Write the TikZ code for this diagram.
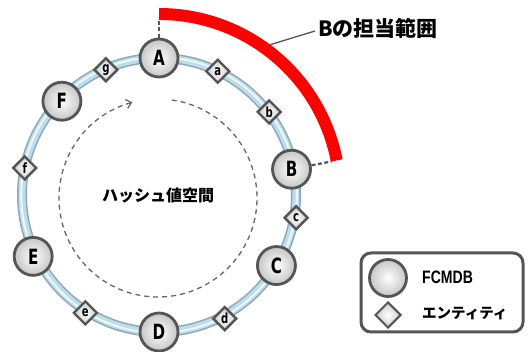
\documentclass[tikz,border=0pt]{standalone}
\usepackage{fontspec}
\setmainfont{Liberation Sans}
\newfontfamily\jp{Noto Sans CJK JP}
\newfontfamily\heavy{DejaVu Sans}
\usetikzlibrary{shapes.geometric,arrows.meta}
\definecolor{edgegray}{HTML}{555555}
\definecolor{ringout}{HTML}{8FA6B6}
\definecolor{ringmid}{HTML}{BCDDEC}
\definecolor{ringhi}{HTML}{EEF8FC}
\tikzset{
  ringnode/.style={circle, minimum size=38pt, inner sep=0pt, line width=2.8pt, draw=edgegray,
    shading=radial, inner color=white, outer color=gray!45,
    font=\heavy\bfseries\fontsize{21}{21}\selectfont},
  entnode/.style={diamond, minimum size=24pt, inner sep=0pt, line width=2.4pt, draw=edgegray,
    shading=radial, inner color=white, outer color=gray!40,
    font=\heavy\bfseries\fontsize{14}{14}\selectfont},
  conn/.style={edgegray, line width=2.2pt, dash pattern=on 4pt off 2.5pt},
  innerdash/.style={edgegray!90, line width=1.3pt, dash pattern=on 5pt off 4pt},
}
\newcommand{\nar}[1]{\scalebox{0.72}[1]{#1}}
\begin{document}
\begin{tikzpicture}[x=1pt,y=1pt]
\useasboundingbox (0,0) rectangle (529,352);
\coordinate (O) at (159,157);
\coordinate (C2) at (158,154);
% inner dashed hash space circle
\draw[innerdash, -{Straight Barb[length=5pt,width=9pt,line width=1.3pt]}]
  ([shift={(82:99)}]C2) arc[start angle=82, end angle=-255, radius=99];
\node[font=\jp\bfseries\fontsize{16}{16}\selectfont] (hs) at (158,157) {ハッシュ値空間};
% ring
\draw[ringout, line width=10pt] (O) circle[radius=137];
\draw[ringmid, line width=7pt] (O) circle[radius=137];
\draw[ringhi, line width=2pt] (O) circle[radius=137.8];
% red range of B
\draw[red, line width=12pt] ([shift={(90:181)}]O) arc[start angle=90, end angle=11, radius=181];
% entities
\node[entnode] (a) at ([shift={(64.6:137)}]O) {\nar{a}};
\node[entnode] (b) at ([shift={(37:138)}]O) {\nar{b}};
\node[entnode] (c) at ([shift={(-9.4:139)}]O) {\nar{c}};
\node[entnode] (d) at ([shift={(-62:140)}]O) {\nar{d}};
\node[entnode] (e) at ([shift={(238:139)}]O) {\nar{e}};
\node[entnode] (f) at ([shift={(168.6:137)}]O) {\nar{f}};
\node[entnode] (g) at ([shift={(113:136)}]O) {\nar{g}};
% FCMDB nodes
\node[ringnode] (A) at ([shift={(90:137)}]O) {\nar{A}};
\node[ringnode] (B) at ([shift={(11:135)}]O) {\nar{B}};
\node[ringnode] (C) at ([shift={(-31:137)}]O) {\nar{C}};
\node[ringnode] (D) at ([shift={(-90:137)}]O) {\nar{D}};
\node[ringnode] (E) at ([shift={(206:140)}]O) {\nar{E}};
\node[ringnode] (F) at ([shift={(136:135)}]O) {\nar{F}};
% dashed connectors to the red range
\coordinate (rA) at ([shift={(90:175)}]O);
\coordinate (rB) at ([shift={(11:176)}]O);
\draw[conn] (A.north) -- (rA);
\draw[conn] (B.11) -- (rB);
% label
\node[anchor=west, inner sep=3pt, font=\jp\bfseries\fontsize{21}{21}\selectfont] (lbl) at (315,324) {Bの担当範囲};
\coordinate (rl) at ([shift={(53.5:187)}]O);
\draw[edgegray, line width=1.3pt] (rl) -- ([yshift=-3pt]lbl.west);
% legend
\draw[edgegray, line width=3pt, rounded corners=10pt] (361,99) rectangle (523,20);
\node[ringnode, minimum size=37pt] (lc) at (388,74) {};
\node[entnode, minimum size=26pt, line width=2pt] (ld) at (388,37) {};
\node[anchor=west, inner sep=0pt, font=\bfseries\fontsize{18}{18}\selectfont] (lt1) at (422,75) {\scalebox{0.78}[1]{FCMDB}};
\node[anchor=west, inner sep=0pt, font=\jp\bfseries\fontsize{14.5}{14.5}\selectfont] (lt2) at (422,38) {エンティティ};
\end{tikzpicture}
\end{document}
